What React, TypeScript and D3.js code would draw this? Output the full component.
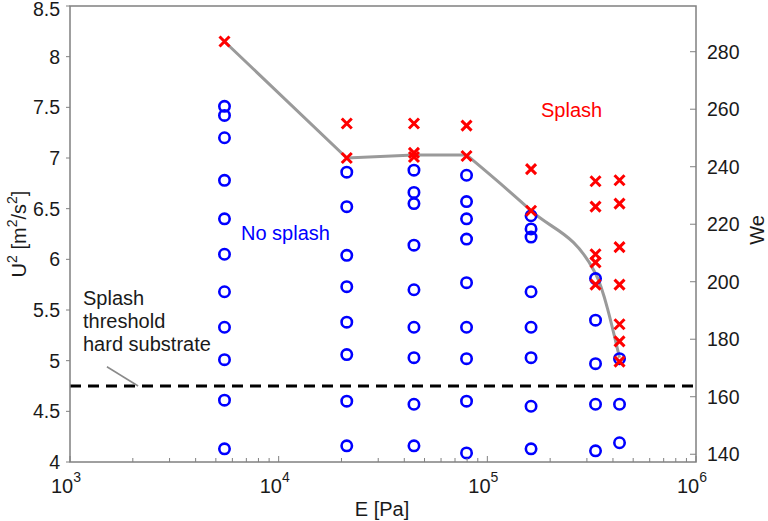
import React from 'react';
import * as d3 from 'd3';

// Young's modulus of each substrate (Pa)
const modulus = [5.5e3, 2.12e4, 4.45e4, 7.95e4, 1.62e5, 3.3e5, 4.3e5];

// U^2 of impacts that did not splash, one list per substrate
const noSplash: number[][] = [
  [7.51, 7.42, 7.2, 6.78, 6.4, 6.05, 5.68, 5.33, 5.01, 4.61, 4.13],
  [6.86, 6.52, 6.04, 5.73, 5.38, 5.06, 4.6, 4.16],
  [6.88, 6.66, 6.55, 6.14, 5.7, 5.33, 5.03, 4.57, 4.16],
  [6.83, 6.57, 6.4, 6.2, 5.77, 5.33, 5.02, 4.6, 4.09],
  [6.43, 6.3, 6.22, 5.68, 5.33, 5.03, 4.55, 4.13],
  [5.81, 5.4, 4.97, 4.57, 4.11],
  [5.02, 4.57, 4.19],
];

// U^2 of impacts that splashed
const splash: number[][] = [
  [8.15],
  [7.34, 7.0],
  [7.34, 7.05, 7.01],
  [7.32, 7.02],
  [6.89, 6.48],
  [6.77, 6.52, 6.05, 5.97, 5.75],
  [6.78, 6.55, 6.12, 5.75, 5.36, 5.19, 4.99],
];

// splash threshold on soft substrates
const threshold = [8.15, 7.0, 7.03, 7.03, 6.48, 5.86, 5.03];
const hardThreshold = 4.75;

const xDecades = [3, 4, 5, 6];
const yTicks = [4, 4.5, 5, 5.5, 6, 6.5, 7, 7.5, 8, 8.5];
const weTicks = [140, 160, 180, 200, 220, 240, 260, 280];

const W = 768;
const H = 521;
const font = '"Liberation Sans", Arial, Helvetica, sans-serif';
const axisColor = '#808080';
const textColor = '#1a1a1a';

export default function App() {
  const x = d3.scaleLog().domain([1e3, 1e6]).range([70, 696]);
  const y = d3.scaleLinear().domain([4, 8.5]).range([462, 6]);
  const yWe = d3.scaleLinear().domain([137.3, 295.9]).range([462, 6]);

  const minor: number[] = [];
  xDecades.slice(0, -1).forEach((d) => {
    for (let k = 2; k <= 9; k++) minor.push(k * Math.pow(10, d));
  });

  // straight up to the 4th substrate, then a smooth bend down
  const pts = modulus.map((e, i) => [x(e), y(threshold[i])] as [number, number]);
  const lineLin = d3.line().curve(d3.curveLinear)(pts.slice(0, 4)) || '';
  const lineCurve = d3.line().curve(d3.curveMonotoneX)(pts.slice(3)) || '';

  const cs = 5;
  const crossPath = `M${-cs},${-cs}L${cs},${cs}M${-cs},${cs}L${cs},${-cs}`;

  const [x0, x1] = x.range();
  const [yb, yt] = y.range();

  return (
    <svg
      width={W}
      height={H}
      style={{ position: 'absolute', left: 0, top: 0, background: '#fff' }}
      fontFamily={font}
    >
      {/* threshold line */}
      <path d={lineLin} fill="none" stroke="#9a9a9a" strokeWidth={3} />
      <path d={lineCurve} fill="none" stroke="#9a9a9a" strokeWidth={3} />

      {/* hard substrate threshold */}
      <line
        x1={x0}
        x2={x1}
        y1={y(hardThreshold)}
        y2={y(hardThreshold)}
        stroke="#000"
        strokeWidth={3}
        strokeDasharray="11,7"
      />

      {/* no splash */}
      {noSplash.map((col, i) =>
        col.map((v, j) => (
          <circle
            key={`o${i}-${j}`}
            cx={x(modulus[i])}
            cy={y(v)}
            r={5.2}
            fill="none"
            stroke="#0000ff"
            strokeWidth={2.6}
          />
        ))
      )}

      {/* splash */}
      {splash.map((col, i) =>
        col.map((v, j) => (
          <path
            key={`x${i}-${j}`}
            d={crossPath}
            transform={`translate(${x(modulus[i])},${y(v)})`}
            stroke="#ff0000"
            strokeWidth={3}
            fill="none"
          />
        ))
      )}

      {/* frame */}
      <rect x={x0} y={yt} width={x1 - x0} height={yb - yt} fill="none" stroke={axisColor} strokeWidth={1.5} />

      {/* x ticks */}
      {xDecades.map((d) => (
        <g key={`xd${d}`}>
          <line x1={x(Math.pow(10, d))} x2={x(Math.pow(10, d))} y1={yb} y2={yb - 6} stroke={axisColor} strokeWidth={1} />
          <text x={x(Math.pow(10, d)) - 4} y={493} textAnchor="middle" fontSize={20} fill={textColor}>
            10
            <tspan fontSize={14} dy={-11}>{d}</tspan>
          </text>
        </g>
      ))}
      {minor.map((m) => (
        <line key={`xm${m}`} x1={x(m)} x2={x(m)} y1={yb} y2={yb - 4} stroke={axisColor} strokeWidth={1} />
      ))}

      {/* left y ticks */}
      {yTicks.map((t) => (
        <g key={`yt${t}`}>
          <line x1={x0 - 4} x2={x0} y1={y(t)} y2={y(t)} stroke={axisColor} strokeWidth={1} />
          <text x={60} y={Math.max(y(t) + 7, 15.5)} textAnchor="end" fontSize={19.5} fill={textColor}>
            {t}
          </text>
        </g>
      ))}

      {/* right We ticks */}
      {weTicks.map((t) => (
        <g key={`we${t}`}>
          <line x1={x1 - 6} x2={x1} y1={yWe(t)} y2={yWe(t)} stroke={axisColor} strokeWidth={1} />
          <text x={707} y={yWe(t) + 7} textAnchor="start" fontSize={19.5} fill={textColor}>
            {t}
          </text>
        </g>
      ))}

      {/* axis titles */}
      <text x={382} y={516} textAnchor="middle" fontSize={20} fill={textColor}>
        E [Pa]
      </text>
      <text transform={`translate(26,${(yb + yt) / 2}) rotate(-90)`} textAnchor="middle" fontSize={20} fill={textColor}>
        U
        <tspan fontSize={14} dy={-9}>2</tspan>
        <tspan dy={9}> [m</tspan>
        <tspan fontSize={14} dy={-9}>2</tspan>
        <tspan dy={9}>/s</tspan>
        <tspan fontSize={14} dy={-9}>2</tspan>
        <tspan dy={9}>]</tspan>
      </text>
      <text transform={`translate(764,${(yb + yt) / 2 - 4}) rotate(-90)`} textAnchor="middle" fontSize={20} fill={textColor}>
        We
      </text>

      {/* annotations */}
      <text x={241} y={240} fontSize={20} fill="#0000ff">No splash</text>
      <text x={541} y={117} fontSize={20} fill="#ff0000">Splash</text>
      <text x={83} y={305} fontSize={20} fill={textColor}>
        <tspan x={83}>Splash</tspan>
        <tspan x={83} dy={23}>threshold</tspan>
        <tspan x={83} dy={23}>hard substrate</tspan>
      </text>
      <line
        x1={x(1503)}
        y1={y(4.94)}
        x2={x(2120)}
        y2={y(hardThreshold)}
        stroke="#8a8a8a"
        strokeWidth={1.5}
      />
    </svg>
  );
}
